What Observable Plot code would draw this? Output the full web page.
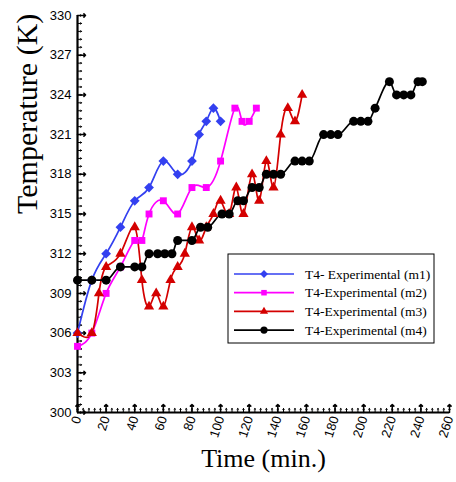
<!DOCTYPE html>
<html>
<head>
<meta charset="utf-8">
<script src="https://cdn.jsdelivr.net/npm/d3@7"></script>
<script src="https://cdn.jsdelivr.net/npm/@observablehq/plot@0.6"></script>
<style>
  html, body { margin: 0; padding: 0; background: #fff; }
  #chart svg { display: block; }
</style>
</head>
<body>
<div id="chart"></div>
<script>
// Measured temperature T4 over time for four runs (m1–m4)
const m1Time = [0, 10, 20, 30, 40, 50, 60, 70, 80, 85, 90, 95, 100];
const m1Temp = [306, 310, 312, 314, 316, 317, 319, 318, 319, 321, 322, 323, 322];

const m2Time = [0, 10, 20, 30, 40, 45, 50, 60, 70, 80, 90, 100, 110, 115, 120, 125];
const m2Temp = [305, 306, 309, 311, 313, 313, 315, 316, 315, 317, 317, 319, 323, 322, 322, 323];

const m3Time = [0, 10, 15, 20, 30, 40, 45, 50, 55, 60, 65, 70, 75, 80, 85, 90, 95, 100, 106, 111, 116, 122, 127, 132, 137, 142, 147, 152, 157];
const m3Temp = [306, 306, 309, 311, 312, 314, 310, 308, 309, 308, 310, 311, 312, 314, 313, 314, 315, 316, 315, 317, 315, 318, 316, 319, 317, 321, 323, 322, 324];

const m4Time = [0, 10, 20, 30, 40, 45, 50, 56, 61, 66, 70, 80, 86, 91, 101, 106, 112, 116, 122, 127, 132, 137, 142, 152, 157, 162, 172, 177, 182, 193, 198, 203, 208, 218, 223, 228, 233, 238, 241];
const m4Temp = [310, 310, 310, 311, 311, 311, 312, 312, 312, 312, 313, 313, 314, 314, 315, 315, 316, 316, 317, 317, 318, 318, 318, 319, 319, 319, 321, 321, 321, 322, 322, 322, 323, 325, 324, 324, 324, 325, 325];

const seriesNames = ["T4- Experimental (m1)", "T4-Experimental (m2)", "T4-Experimental (m3)", "T4-Experimental (m4)"];
const seriesColors = ["#3340f0", "#ff00ff", "#d40000", "#000000"];
const seriesSymbols = ["diamond2", "square", "triangle", "circle"];
const seriesSizes = [4.4, 3.9, 3.8, 4.5];
const seriesCurves = ["natural", "natural", "natural", "monotone-x"];

const xMajor = d3.range(0, 261, 20);
const xMinor = d3.range(0, 261, 4);
const yMajor = d3.range(300, 331, 3);
const yMinor = d3.range(300, 330.01, 0.6);

const runs = [[m1Time, m1Temp], [m2Time, m2Temp], [m3Time, m3Temp], [m4Time, m4Temp]]
  .map(([ts, vs], i) => ts.map((t, j) => ({run: seriesNames[i], i, t, v: vs[j]})));

const lineMarks = runs.map((rows, i) =>
  Plot.line(rows, {x: "t", y: "v", stroke: seriesColors[i], strokeWidth: 1.7, curve: seriesCurves[i]}));
const dotMarks = runs.map((rows, i) =>
  Plot.dot(rows, {x: "t", y: "v", fill: seriesColors[i], stroke: "none", symbol: () => seriesSymbols[i], r: seriesSizes[i]}));

const chart = Plot.plot({
  width: 456,
  height: 482,
  marginLeft: 77,
  marginRight: 7,
  marginTop: 15,
  marginBottom: 70,
  style: {background: "#fff", fontFamily: "Arial, 'Liberation Sans', sans-serif"},
  x: {domain: [0, 260]},
  y: {domain: [300, 330]},
  marks: [
    // inward ticks
    Plot.vector(xMinor, {x: d => d, frameAnchor: "bottom", anchor: "start", rotate: 0, length: 4, stroke: "#000", strokeWidth: 1}),
    Plot.vector(xMajor, {x: d => d, frameAnchor: "bottom", anchor: "start", rotate: 0, length: 8, stroke: "#000", strokeWidth: 1.5}),
    Plot.vector(yMinor, {y: d => d, frameAnchor: "left", anchor: "start", rotate: 90, length: 4, stroke: "#000", strokeWidth: 1}),
    Plot.vector(yMajor, {y: d => d, frameAnchor: "left", anchor: "start", rotate: 90, length: 8, stroke: "#000", strokeWidth: 1.5}),
    Plot.axisX({ticks: xMajor, tickSize: 0, tickPadding: 4, tickRotate: -72, fontSize: 13, label: null, tickFormat: d => String(d)}),
    Plot.axisY({ticks: yMajor, tickSize: 0, tickPadding: 6, fontSize: 13, label: null, tickFormat: d => String(d)}),
    Plot.ruleX([0], {stroke: "#000", strokeWidth: 2.2}),
    Plot.ruleY([300], {stroke: "#000", strokeWidth: 2.2}),
    ...lineMarks,
    ...dotMarks,
    Plot.text(["Temperature (K)"], {frameAnchor: "left", dx: -50, rotate: -90, fontSize: 30, fontFamily: "'Liberation Serif', 'Times New Roman', serif", fill: "#000"}),
    Plot.text(["Time (min.)"], {frameAnchor: "bottom", dy: 54, fontSize: 26, fontFamily: "'Liberation Serif', 'Times New Roman', serif", fill: "#000"})
  ]
});

document.getElementById("chart").appendChild(chart);

// Legend box inside the plotting area
const svg = d3.select(chart);
const lg = svg.append("g").attr("transform", "translate(228,254)");
lg.append("rect").attr("width", 206).attr("height", 89).attr("fill", "#fff").attr("stroke", "#000").attr("stroke-width", 1);
seriesNames.forEach((name, i) => {
  const row = lg.append("g").attr("transform", `translate(0,${20 + i * 18.7})`);
  row.append("line").attr("x1", 6).attr("x2", 66).attr("stroke", seriesColors[i]).attr("stroke-width", 1.7);
  row.append("path")
    .attr("transform", "translate(36,0)")
    .attr("d", d3.symbol(
      [d3.symbolDiamond2, d3.symbolSquare, d3.symbolTriangle, d3.symbolCircle][i],
      Math.PI * (seriesSizes[i] * 0.8) ** 2)())
    .attr("fill", seriesColors[i]);
  row.append("text").attr("x", 77).attr("dy", "0.35em")
    .attr("text-anchor", "start")
    .attr("font-family", "'Liberation Serif', 'Times New Roman', serif")
    .attr("font-size", 13.5).attr("fill", "#000").text(name);
});
</script>
</body>
</html>
